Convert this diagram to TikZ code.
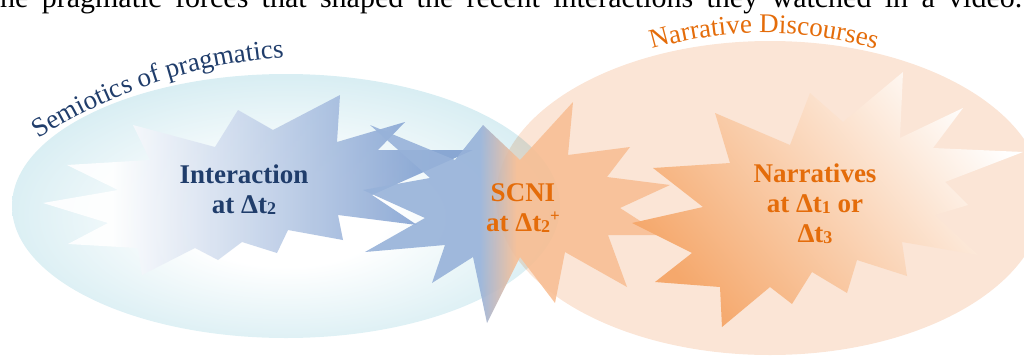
\documentclass[tikz,border=0pt]{standalone}
\usepackage{fontspec}
\setmainfont{Liberation Serif}
\usetikzlibrary{decorations.text}
\definecolor{ecyan}{HTML}{D9EEF3}
\definecolor{ocream}{HTML}{FBE5D6}
\definecolor{iblue}{HTML}{7F9FD0}
\definecolor{sblue}{HTML}{97B2D9}
\definecolor{sorange}{HTML}{F8BF95}
\definecolor{norange}{HTML}{F5A86C}
\definecolor{navy}{HTML}{203D6B}
\definecolor{dorange}{HTML}{E46C0A}
\pgfdeclareradialshading{ellshade}{\pgfpoint{0bp}{-3bp}}{color(0bp)=(white); color(9bp)=(white); color(26bp)=(ecyan); color(50bp)=(ecyan)}
\pgfdeclarehorizontalshading{intshade}{100bp}{color(0bp)=(white); color(33bp)=(white); color(70bp)=(iblue); color(100bp)=(iblue)}
\pgfdeclarehorizontalshading{scnishade}{100bp}{color(0bp)=(sblue); color(44bp)=(sblue); color(50bp)=(sorange); color(100bp)=(sorange)}
\pgfdeclarehorizontalshading{narshade}{100bp}{color(0bp)=(norange); color(25bp)=(norange); color(76bp)=(white); color(100bp)=(white)}
\newcommand\lowidx[1]{\raisebox{-1pt}{\fontsize{18}{18}\selectfont #1}}
\newcommand\highidx[1]{\raisebox{10pt}{\fontsize{17}{17}\selectfont #1}}
\tikzset{
  lbl/.style={font=\bfseries\fontsize{27}{30}\selectfont, align=center, inner sep=0pt},
  startext/.style={fill opacity=0.9}
}
\begin{document}
\begin{tikzpicture}[x=1pt,y=1pt]
\path[use as bounding box] (0,0) rectangle (1024,-356);
\clip (0,0) rectangle (1024,-356);
% caption line cut at top
\node[anchor=base west, inner sep=0pt, font=\fontsize{30}{30}\selectfont] (caption) at (0,-7)
  {\makebox[1022pt][s]{he pragmatic forces that shaped the recent interactions they watched in a video.}};
% ellipses
\shade[shading=ellshade] (286,-206) ellipse[x radius=274, y radius=132];
\fill[ocream, blend mode=multiply] (770,-198) ellipse[x radius=274, y radius=157];
% Interaction star
\shade[shading=intshade, startext]
  (133,-125) -- (150,-160) -- (67,-165) -- (118,-190) -- (43,-203) -- (108,-223) -- (68,-244) -- (138,-248) -- (142,-275) -- (195,-248) -- (218,-260) -- (242,-242) -- (277,-253) -- (288,-230) -- (343,-240) -- (338,-215) -- (417,-225) -- (372,-195) -- (473,-150) -- (378,-150) -- (405,-122) -- (337,-142) -- (340,-95) -- (273,-130) -- (238,-110) -- (215,-147) -- cycle;
% SCNI star
\shade[shading=scnishade, startext]
  (483,-125) -- (520,-160) -- (573,-102) -- (568,-155) -- (630,-147) -- (607,-177) -- (670,-185) -- (620,-208) -- (662,-235) -- (608,-235) -- (627,-287) -- (565,-252) -- (555,-303) -- (520,-257) -- (487,-323) -- (473,-257) -- (432,-283) -- (445,-245) -- (365,-252) -- (425,-218) -- (363,-190) -- (430,-178) -- (370,-125) -- (455,-160) -- cycle;
% Narratives star
\shade[shading=narshade, shading angle=39]
  (715,-113) -- (730,-163) -- (653,-168) -- (703,-207) -- (632,-223) -- (692,-253) -- (655,-282) -- (720,-287) -- (722,-327) -- (770,-287) -- (792,-304) -- (812,-272) -- (847,-293) -- (857,-260) -- (907,-276) -- (902,-242) -- (978,-255) -- (935,-215) -- (968,-205) -- (945,-182) -- (1023,-152) -- (933,-148) -- (963,-108) -- (900,-138) -- (903,-72) -- (843,-122) -- (810,-93) -- (790,-145) -- cycle;
% labels
\node[lbl, text=navy] (inter) at (244,-190) {Interaction\\at Δt\lowidx{2}};
\node[lbl, text=dorange] (scni) at (523,-208) {SCNI\\at Δt\lowidx{2}\highidx{+}};
\node[lbl, text=dorange] (narr) at (815,-204) {Narratives\\at Δt\lowidx{1} or\\Δt\lowidx{3}};
% arched titles
\path[decorate, decoration={text along path, text align=center,
  text={|\fontsize{27}{27}\selectfont\color{navy}|Semiotics of pragmatics}}]
  (322,-585) ++(123.5:529) arc[start angle=123.5, end angle=93, radius=529];
\path[decorate, decoration={text along path, text align=center,
  text={|\fontsize{27}{27}\selectfont\color{dorange}|Narrative Discourses}}]
  (648,-50.2) arc[start angle=106.85, end angle=73.15, radius=400];
\end{tikzpicture}
\end{document}
